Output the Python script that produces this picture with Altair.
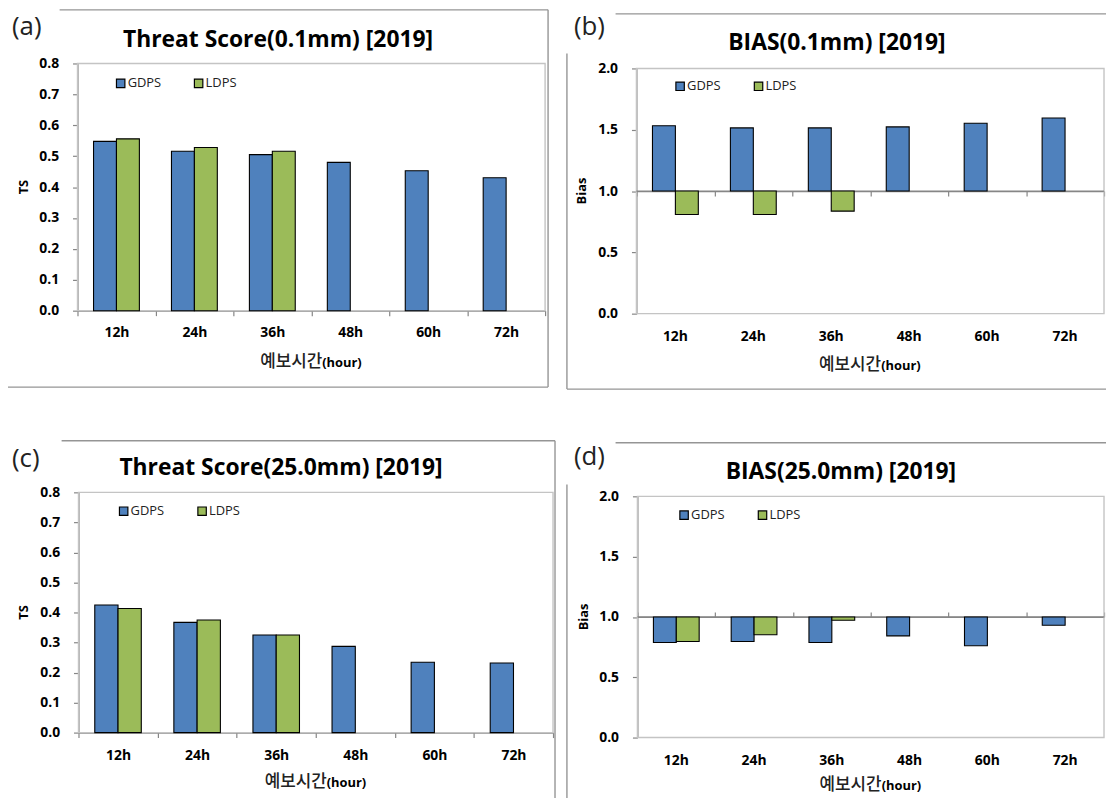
import altair as alt
import pandas as pd

# ---------------- data ----------------
hours = ["12h", "24h", "36h", "48h", "60h", "72h"]
series = ["GDPS", "LDPS"]
colors = ["#4F81BD", "#9BBB59"]

ts01_gdps = [0.548, 0.516, 0.505, 0.480, 0.453, 0.430]
ts01_ldps = [0.556, 0.528, 0.516]
bias01_gdps = [1.532, 1.515, 1.515, 1.523, 1.553, 1.596]
bias01_ldps = [0.809, 0.809, 0.836]
ts25_gdps = [0.425, 0.367, 0.325, 0.287, 0.234, 0.232]
ts25_ldps = [0.413, 0.375, 0.325]
bias25_gdps = [0.788, 0.797, 0.788, 0.843, 0.761, 0.931]
bias25_ldps = [0.797, 0.852, 0.973]

titles = ["Threat Score(0.1mm) [2019]", "BIAS(0.1mm) [2019]",
          "Threat Score(25.0mm) [2019]", "BIAS(25.0mm) [2019]"]
panel_tags = ["(a)", "(b)", "(c)", "(d)"]
y_titles = ["TS", "Bias", "TS", "Bias"]
x_title_ko = "예보시간"
x_title_en = "(hour)"
ts_ticks = [0.0, 0.1, 0.2, 0.3, 0.4, 0.5, 0.6, 0.7, 0.8]
bias_ticks = [0.0, 0.5, 1.0, 1.5, 2.0]
bias_base = [1.0]

# ---------------- style / layout ----------------
W, H = 1106, 790          # whole drawing (page minus 8px margin)
FRAME = "#959595"
BORDER = "#c4c4c4"
AXIS = "#868686"
LATIN = "Open Sans"
KO = "Noto Sans CJK KR"


def S(v):
    """page coordinate -> drawing coordinate"""
    return v - 8


def one():
    return pd.DataFrame({"k": [0]})


def text_layer(txt, x, y, size, weight="normal", font=LATIN, align="center", angle=0, color="black"):
    return alt.Chart(pd.DataFrame({"label": [txt]})).mark_text(
        align=align, baseline="middle", fontSize=size, fontWeight=weight,
        font=font, angle=angle, color=color
    ).encode(text="label:N", x=alt.value(S(x)), y=alt.value(S(y)))


def rule_layer(x1, y1, x2, y2, color, width):
    return alt.Chart(one()).mark_rule(color=color, strokeWidth=width).encode(
        x=alt.value(S(x1)), x2=alt.value(S(x2)), y=alt.value(S(y1)), y2=alt.value(S(y2)))


def panel(idx, gdps, ldps, kind, L, R, T, B, frame, title_xy, tag_xy, ytitle_x,
          xtitle_y, legend_x, legend_y, label_pad, tick_up=False):
    df = pd.DataFrame({
        "hour": hours + hours[:len(ldps)],
        "series": [series[0]] * len(gdps) + [series[1]] * len(ldps),
        "value": gdps + ldps,
    })
    ydom, yvals = ([0, 0.8], ts_ticks) if kind == "ts" else ([0, 2.0], bias_ticks)

    xscale = alt.Scale(domain=hours, range=[S(L), S(R)], paddingInner=0, paddingOuter=0)
    xoff = H - S(B)
    if kind == "ts":
        xaxis = alt.Axis(title=None, orient="bottom", offset=-xoff, tickBand="extent",
                         ticks=True, tickSize=5, labelPadding=label_pad, domain=True, labelAngle=0)
    else:
        xaxis = alt.Axis(title=None, orient="bottom", offset=-xoff, ticks=False, tickSize=0,
                         domain=False, labelPadding=label_pad, labelAngle=0)

    yscale = alt.Scale(domain=ydom, range=[S(B), S(T)], nice=False)
    yaxis = alt.Axis(title=None, orient="left", offset=-S(L), values=yvals, format=".1f",
                     grid=False, tickSize=5, labelPadding=14)
    enc = dict(
        x=alt.X("hour:N", sort=hours, scale=xscale, axis=xaxis),
        xOffset=alt.XOffset("series:N", sort=series,
                            scale=alt.Scale(domain=series, paddingInner=0, paddingOuter=0.7)),
        y=alt.Y("value:Q", scale=yscale, axis=yaxis),
        color=alt.Color("series:N", scale=alt.Scale(domain=series, range=colors), legend=None),
    )
    if kind == "bias":
        enc["y2"] = alt.Y2Datum(bias_base[0])
    bars = alt.Chart(df).mark_bar(stroke="black", strokeWidth=1.1).encode(**enc)

    layers = []
    for (x1, y1, x2, y2) in frame:
        layers.append(rule_layer(x1, y1, x2, y2, FRAME, 1.4))
    layers.append(
        alt.Chart(one()).mark_rect(fillOpacity=0, stroke=BORDER, strokeWidth=1.4).encode(
            x=alt.value(S(L)), x2=alt.value(S(R)), y=alt.value(S(T)), y2=alt.value(S(B))))
    if kind == "bias":
        layers.append(
            alt.Chart(pd.DataFrame({"value": bias_base})).mark_rule(color=AXIS, strokeWidth=1.2).encode(
                y=alt.Y("value:Q", scale=yscale, axis=yaxis),
                x=alt.value(S(L)), x2=alt.value(S(R))))
    layers.append(bars)

    if kind == "bias":
        y1 = (S(T) + S(B)) / 2.0
        if tick_up:
            hax = alt.Axis(title=None, orient="top", offset=-y1, labels=False, ticks=True,
                           tickSize=5, tickBand="extent", domain=True)
        else:
            hax = alt.Axis(title=None, orient="bottom", offset=-(H - y1), labels=False, ticks=True,
                           tickSize=5, tickBand="extent", domain=True)
        helper = alt.Chart(df).mark_point(opacity=0).encode(
            x=alt.X("hour:N", sort=hours, scale=xscale, axis=hax))
        layers.append(helper)

    for k, name in enumerate(series):
        lx = legend_x[k]
        layers.append(alt.Chart(pd.DataFrame({"series": [name]})).mark_square(
            size=72, fill=colors[k], stroke="black", strokeWidth=1.2, opacity=1).encode(
            x=alt.value(S(lx)), y=alt.value(S(legend_y))))
        layers.append(text_layer(name, lx + 7, legend_y, 13, align="left", color="#222"))

    layers.append(text_layer(titles[idx], title_xy[0], title_xy[1], 23, weight="bold"))
    layers.append(text_layer(panel_tags[idx], tag_xy[0], tag_xy[1], 26, align="left", color="#222"))
    layers.append(text_layer(y_titles[idx], ytitle_x, (T + B) / 2.0, 13, weight="bold", angle=270))
    split = (L + R) / 2.0 + 11
    layers.append(text_layer(x_title_ko, split, xtitle_y, 17, weight=500, font=KO, align="right", color="#222"))
    layers.append(text_layer(x_title_en, split, xtitle_y + 1, 13, weight="bold", align="left"))

    ch = alt.layer(*layers)
    if kind == "bias":
        ch = ch.resolve_axis(x="independent")
    return ch


pa = panel(0, ts01_gdps, ts01_ldps, "ts", L=78, R=549, T=61, B=310,
           frame=[(60, 7, 552, 7), (7, 48, 7, 387), (552, 7, 552, 387), (7, 387, 552, 387)],
           title_xy=(280, 37), tag_xy=(12, 24), ytitle_x=24, xtitle_y=362,
           legend_x=(121.5, 200), legend_y=81, label_pad=10)

pb = panel(1, bias01_gdps, bias01_ldps, "bias", L=641, R=1112, T=66, B=313,
           frame=[(620, 11, 1114, 11), (571, 51, 571, 389), (571, 389, 1114, 389)],
           title_xy=(843, 40), tag_xy=(578, 24), ytitle_x=586, xtitle_y=365,
           legend_x=(685, 764), legend_y=84, label_pad=16, tick_up=False)

pc = panel(2, ts25_gdps, ts25_ldps, "ts", L=79, R=557, T=493, B=735,
           frame=[(62, 441, 559, 441), (7, 482, 7, 808), (559, 441, 559, 808)],
           title_xy=(283, 469), tag_xy=(12, 459), ytitle_x=24, xtitle_y=785,
           legend_x=(124.5, 203.5), legend_y=512, label_pad=11)

pd_ = panel(3, bias25_gdps, bias25_ldps, "bias", L=642, R=1112, T=497, B=740,
            frame=[(620, 443, 1114, 443), (571, 485, 571, 808)],
            title_xy=(847, 473), tag_xy=(578, 457), ytitle_x=588, xtitle_y=788,
            legend_x=(689, 768), legend_y=516, label_pad=16, tick_up=True)

chart = alt.layer(pa, pb, pc, pd_).resolve_scale(
    x="independent", y="independent", color="independent", xOffset="independent"
).resolve_axis(
    x="independent", y="independent"
).properties(
    width=W, height=H, padding=0, background="white",
    autosize=alt.AutoSizeParams(type="none")
).configure_view(
    strokeWidth=0
).configure_axis(
    labelFont=LATIN, labelFontWeight="bold", labelFontSize=14, labelColor="black",
    domainColor=AXIS, tickColor=AXIS, domainWidth=1.2, tickWidth=1.2
)

chart.save("out.html", embed_options={"renderer": "svg", "actions": False})
